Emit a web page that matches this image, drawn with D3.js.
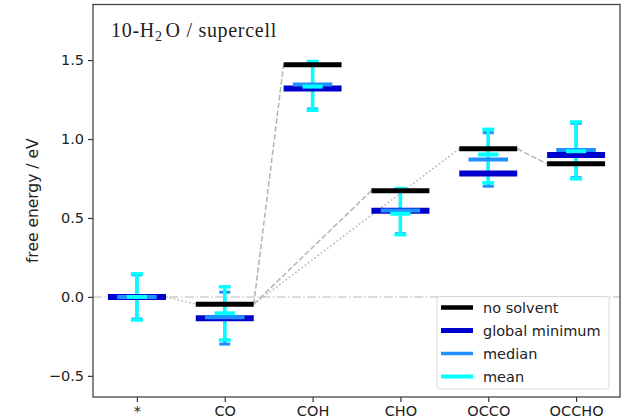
<!DOCTYPE html>
<html>
<head>
<meta charset="utf-8">
<script src="https://cdn.jsdelivr.net/npm/d3@7"></script>
<style>
  html, body { margin: 0; padding: 0; background: #fff; }
  svg { display: block; }
</style>
</head>
<body>
<svg id="chart" width="626" height="420"></svg>
<script>
// ---- data ----
const categories = ["*", "CO", "COH", "CHO", "OCCO", "OCCHO"];
const noSolvent  = [0, -0.046, 1.470, 0.673, 0.938, 0.843];
const globalMin  = [0, -0.135, 1.320, 0.546, 0.781, 0.898];
const median     = [0, -0.129, 1.345, 0.548, 0.870, 0.930];
const mean       = [0, -0.104, 1.332, 0.527, 0.902, 0.923];
const medianLow  = [-0.140, -0.299, 1.190, 0.400, 0.701, 0.755];
const medianHigh = [0.140, 0.030, 1.485, 0.682, 1.040, 1.100];
const meanLow    = [-0.146, -0.273, 1.182, 0.394, 0.722, 0.748];
const meanHigh   = [0.146, 0.064, 1.491, 0.686, 1.061, 1.108];
// connections between no-solvent levels: [from, to, style]
const connections = [[0, 1, "dotted"], [1, 2, "dashed"], [1, 3, "dashed"], [1, 4, "dotted"], [4, 5, "dashed"]];
const yTicks = [-0.5, 0.0, 0.5, 1.0, 1.5];
const legendLabels = ["no solvent", "global minimum", "median", "mean"];

// ---- layout ----
const svg = d3.select("#chart");
const L = 93, R = 620, T = 4.5, B = 397;
const x = d3.scaleLinear().domain([-0.5, 5.5]).range([L, R]);
const y = d3.scaleLinear().domain([-0.634, 1.852]).range([B, T]);
const halfW = 0.33;
const font = "'DejaVu Sans', sans-serif";

const colors = { noSolvent: "#000000", globalMin: "#0000cd", median: "#1e90ff", mean: "#00ffff" };
const dashes = { dashed: "5.5,2.4", dotted: "1.6,2.4" };

const plot = svg.append("g");

// horizontal dash-dot at zero
plot.append("line")
  .attr("x1", L).attr("x2", R).attr("y1", y(0)).attr("y2", y(0))
  .attr("stroke", "#cfcfcf").attr("stroke-width", 1.5)
  .attr("stroke-dasharray", "9,2.4,1.5,2.4");

// connection lines
plot.selectAll(".conn").data(connections).enter().append("line")
  .attr("x1", d => x(d[0] + halfW)).attr("y1", d => y(noSolvent[d[0]]))
  .attr("x2", d => x(d[1] - halfW)).attr("y2", d => y(noSolvent[d[1]]))
  .attr("stroke", "#b4b4b4").attr("stroke-width", 1.5)
  .attr("stroke-dasharray", d => dashes[d[2]]);

// error bars
function errorbars(low, high, color, lw, capW, capLw) {
  const g = plot.append("g");
  categories.forEach((c, i) => {
    g.append("line").attr("x1", x(i)).attr("x2", x(i))
      .attr("y1", y(low[i])).attr("y2", y(high[i]))
      .attr("stroke", color).attr("stroke-width", lw);
    [low[i], high[i]].forEach(v => {
      g.append("line").attr("x1", x(i) - capW / 2).attr("x2", x(i) + capW / 2)
        .attr("y1", y(v)).attr("y2", y(v))
        .attr("stroke", color).attr("stroke-width", capLw);
    });
  });
}
errorbars(medianLow, medianHigh, colors.median, 3, 11, 3);
errorbars(meanLow, meanHigh, colors.mean, 3.5, 12, 3.5);

// level bars
function bars(vals, color, hw, lw) {
  plot.append("g").selectAll("line").data(vals).enter().append("line")
    .attr("x1", (d, i) => x(i - hw)).attr("x2", (d, i) => x(i + hw))
    .attr("y1", d => y(d)).attr("y2", d => y(d))
    .attr("stroke", color).attr("stroke-width", lw);
}
bars(noSolvent, colors.noSolvent, halfW, 5);
bars(globalMin, colors.globalMin, halfW, 6);
bars(median, colors.median, 0.225, 4);
bars(mean, colors.mean, 0.115, 4);

// axes
const yAxis = d3.axisLeft(y).tickValues(yTicks).tickFormat(d3.format(".1f")).tickSize(5).tickPadding(4);
const gy = svg.append("g").attr("transform", `translate(${L},0)`).call(yAxis);
const xAxis = d3.axisBottom(x).tickValues(d3.range(categories.length)).tickFormat(i => categories[i]).tickSize(5).tickPadding(4);
const gx = svg.append("g").attr("transform", `translate(0,${B})`).call(xAxis);
[gx, gy].forEach(g => {
  g.select(".domain").remove();
  g.selectAll(".tick line").attr("stroke", "#333").attr("stroke-width", 1.2);
  g.selectAll(".tick text").attr("fill", "#222").style("font-family", font).style("font-size", "14.5px");
});

// frame
svg.append("rect").attr("x", L).attr("y", T).attr("width", R - L).attr("height", B - T)
  .attr("fill", "none").attr("stroke", "#444").attr("stroke-width", 1.3);

// y label
svg.append("text")
  .attr("transform", `translate(38,${(T + B) / 2}) rotate(-90)`)
  .attr("text-anchor", "middle")
  .style("font-family", font).style("font-size", "15.5px").attr("fill", "#222")
  .text("free energy / eV");

// title
const title = svg.append("text").attr("x", 111).attr("y", 37)
  .style("font-family", "'Liberation Serif', serif").style("font-size", "20px")
  .style("letter-spacing", "0.7px").attr("fill", "#222");
title.append("tspan").text("10-H");
title.append("tspan").attr("dy", 4).style("font-size", "14px").text("2");
title.append("tspan").attr("dy", -4).attr("dx", 3).text("O / supercell");

// legend
const lg = svg.append("g");
lg.append("rect").attr("x", 437).attr("y", 296.5).attr("width", 172).attr("height", 92.5)
  .attr("rx", 3).attr("fill", "#fff").attr("fill-opacity", 0.85)
  .attr("stroke", "#d8d8d8").attr("stroke-width", 1);
const legendStyles = [
  { c: colors.noSolvent, w: 4.5 },
  { c: colors.globalMin, w: 5 },
  { c: colors.median, w: 3.5 },
  { c: colors.mean, w: 4 }
];
legendLabels.forEach((lab, i) => {
  const yy = 307.5 + i * 23;
  lg.append("line").attr("x1", 441).attr("x2", 473).attr("y1", yy).attr("y2", yy)
    .attr("stroke", legendStyles[i].c).attr("stroke-width", legendStyles[i].w);
  lg.append("text").attr("x", 483).attr("y", yy).attr("dy", "0.35em")
    .style("font-family", font).style("font-size", "14.5px").attr("fill", "#222").text(lab);
});
</script>
</body>
</html>
